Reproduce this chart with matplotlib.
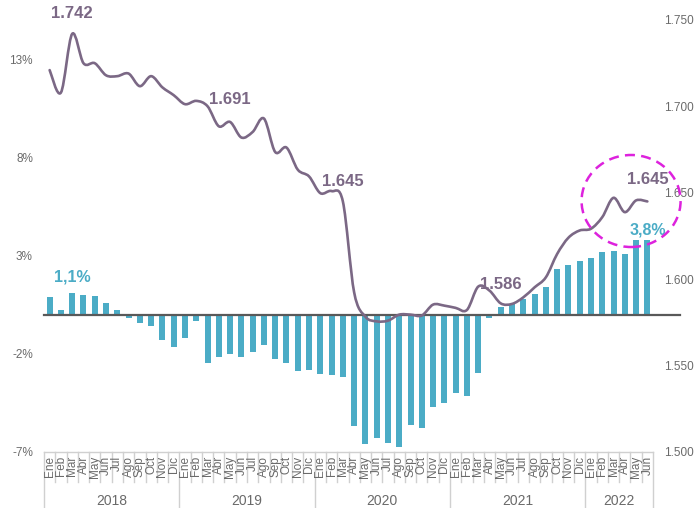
import matplotlib
matplotlib.use("Agg")
import matplotlib.pyplot as plt
from matplotlib.path import Path
from matplotlib.patches import PathPatch, Ellipse
from matplotlib.transforms import blended_transform_factory
from matplotlib.lines import Line2D

plt.rcParams['font.family'] = ['Liberation Sans', 'DejaVu Sans']

months = ["Ene", "Feb", "Mar", "Abr", "May", "Jun", "Jul", "Ago", "Sep", "Oct", "Nov", "Dic"]
years = ["2018", "2019", "2020", "2021", "2022"]
months_per_year = [12, 12, 12, 12, 6]

# Year-on-year change (%) - bars, left axis
pct_change = [
    0.9, 0.25, 1.1, 1.0, 0.95, 0.6, 0.25, -0.17, -0.42, -0.6, -1.3, -1.65,
    -1.2, -0.34, -2.46, -2.17, -2.0, -2.17, -1.92, -1.53, -2.26, -2.46, -2.88, -2.8,
    -3.05, -3.1, -3.2, -5.68, -6.6, -6.3, -6.53, -6.73, -5.6, -5.8, -4.7, -4.5,
    -4.0, -4.14, -3.0, -0.2, 0.36, 0.56, 0.81, 1.07, 1.41, 2.3, 2.5, 2.73,
    2.87, 3.2, 3.24, 3.07, 3.8, 3.8,
]

# Level (thousands) - line, right axis
level = [
    1.721, 1.708, 1.742, 1.725, 1.725, 1.718, 1.7175, 1.719, 1.7117, 1.7175, 1.711, 1.7065,
    1.7013, 1.7032, 1.7001, 1.6885, 1.691, 1.682, 1.6852, 1.693, 1.6736, 1.6762, 1.6634, 1.6595,
    1.6498, 1.651, 1.645, 1.5924, 1.5783, 1.5756, 1.576, 1.5795, 1.5795, 1.579, 1.5853, 1.5847,
    1.5834, 1.5822, 1.5957, 1.5934, 1.586, 1.5857, 1.5895, 1.5953, 1.6011, 1.6146, 1.624, 1.6282,
    1.6292, 1.6359, 1.6471, 1.6388, 1.6456, 1.645,
]

left_ticks = [-7, -2, 3, 8, 13]
right_ticks = [1.500, 1.550, 1.600, 1.650, 1.700, 1.750]

# labelled points: (index, text, offset)
line_labels = [(2, "1.742", 20), (16, "1.691", 22), (26, "1.645", 20), (40, "1.586", 19), (53, "1.645", 22)]
bar_labels = [(2, "1,1%", 16), (53, "3,8%", 10)]

BAR = "#4BACC6"
LINE = "#7B6885"
GREY = "#6A6A6A"
SEP = "#D0D0D0"

n = len(pct_change)
x = list(range(n))

fig = plt.figure(figsize=(6.97, 5.08), dpi=100)
ax = fig.add_axes([44/697, 1-452/508, 609/697, 432/508])
ax2 = ax.twinx()

ax.bar(x, pct_change, width=0.53, color=BAR, zorder=2)
ax.set_xlim(-0.5, n - 0.5)
ax.set_ylim(-7, 15)
ax.set_yticks(left_ticks)
ax.set_yticklabels([f"{t}%" for t in left_ticks])
ax.tick_params(axis='y', length=0, pad=8, labelsize=8.5, labelcolor=GREY)
ax.set_xticks([])
for s in ax.spines.values():
    s.set_visible(False)

# zero baseline extending toward the right axis labels
ax.add_line(Line2D([0, 1.044], [0, 0], color="#595959", lw=1.6,
                   transform=blended_transform_factory(ax.transAxes, ax.transData),
                   clip_on=False, zorder=3))

# smoothed line
def smooth(xs, ys):
    verts = [(xs[0], ys[0])]
    codes = [Path.MOVETO]
    m = len(xs)
    for i in range(m - 1):
        p0 = i - 1 if i > 0 else i
        p3 = i + 2 if i + 2 < m else i + 1
        c1 = (xs[i] + (xs[i+1] - xs[p0]) / 6, ys[i] + (ys[i+1] - ys[p0]) / 6)
        c2 = (xs[i+1] - (xs[p3] - xs[i]) / 6, ys[i+1] - (ys[p3] - ys[i]) / 6)
        verts += [c1, c2, (xs[i+1], ys[i+1])]
        codes += [Path.CURVE4] * 3
    return Path(verts, codes)

ax2.add_patch(PathPatch(smooth(x, level), facecolor='none', edgecolor=LINE, lw=1.9,
                        capstyle='round', joinstyle='round'))
ax2.set_ylim(1.5, 1.75)
ax2.set_yticks(right_ticks)
ax2.set_yticklabels([f"{t:.3f}" for t in right_ticks])
ax2.tick_params(axis='y', length=0, pad=8, labelsize=8.5, labelcolor=GREY)
for s in ax2.spines.values():
    s.set_visible(False)

for i, t, off in line_labels:
    ax2.annotate(t, (x[i], level[i]), xytext=(0, off), textcoords='offset pixels',
                 ha='center', va='center', fontsize=12, fontweight='bold', color=LINE)
for i, t, off in bar_labels:
    ax.annotate(t, (x[i], pct_change[i]), xytext=(0, off), textcoords='offset pixels',
                ha='center', va='center', fontsize=11.5, fontweight='bold', color=BAR, zorder=5)

# dashed highlight ellipse
ax2.add_patch(Ellipse((0.964, 0.581), 0.1626, 0.213, transform=ax2.transAxes,
                      fill=False, edgecolor="#DD22DD", lw=1.8, linestyle=(0, (4, 2.5)),
                      clip_on=False, zorder=6))

# category axis (months + years)
tr = blended_transform_factory(ax.transData, fig.transFigure)
y_top = 1 - 452/508
y_mid = 1 - 482/508
fig.add_artist(Line2D([-0.5, n - 0.5], [y_top, y_top], color=SEP, lw=1, transform=tr))
k = 0
for yi, cnt in zip(years, months_per_year):
    for j in range(cnt):
        fig.text(k + j, 1 - 456/508, months[j], rotation=90, ha='center', va='top',
                 fontsize=8.5, color=GREY, transform=tr)
        if j > 0:
            fig.add_artist(Line2D([k + j - 0.5] * 2, [y_top, y_mid], color=SEP, lw=1, transform=tr))
    fig.add_artist(Line2D([k - 0.5] * 2, [y_top, 0], color=SEP, lw=1, transform=tr))
    fig.text(k + (cnt - 1) / 2, 1 - 501/508, yi, ha='center', va='center',
             fontsize=10, color=GREY, transform=tr)
    k += cnt
fig.add_artist(Line2D([k - 0.5] * 2, [y_top, 0], color=SEP, lw=1, transform=tr))

fig.savefig("out.png", dpi=100)
